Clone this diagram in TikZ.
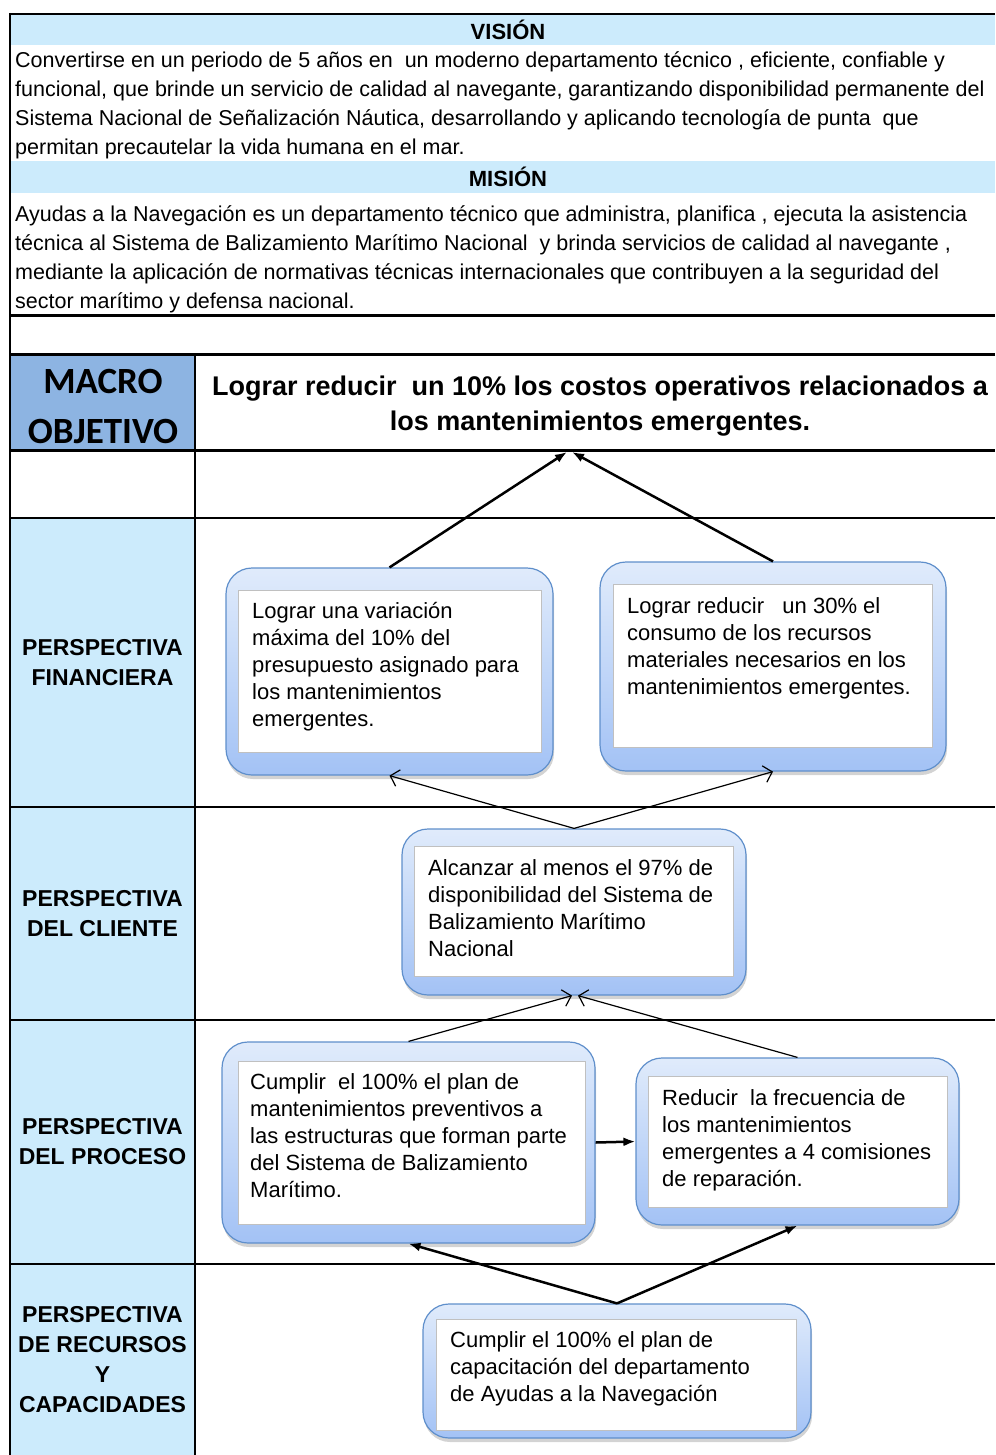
\documentclass[tikz,border=0pt]{standalone}
\usepackage{fontspec}
\setmainfont{Liberation Sans}
\newfontfamily\calib{Carlito}
\usetikzlibrary{arrows.meta,shadows,calc}
\definecolor{band}{HTML}{CCEBFC}
\definecolor{macrob}{HTML}{8DB4E2}
\definecolor{boxtop}{HTML}{E0EBFB}
\definecolor{boxbot}{HTML}{A3C2F5}
\definecolor{boxline}{HTML}{5F8FCB}
\definecolor{innerline}{HTML}{C0C0C0}
\newcommand{\fstrut}{\rule{0pt}{24pt}}
\begin{document}
\begin{tikzpicture}[x=1pt,y=-1pt,
  cellfill/.style={fill=band, inner sep=0pt, draw=none},
  persp/.style={cellfill, align=center, font=\fontsize{23}{30}\selectfont\bfseries},
  obox/.style={draw=boxline, line width=1.2pt, rounded corners=26pt, top color=boxtop, bottom color=boxbot,
     drop shadow={opacity=0.35, shadow xshift=1pt, shadow yshift=-4pt}, inner sep=0pt},
  ibox/.style={draw=innerline, line width=1pt, fill=white, inner sep=0pt},
  txt/.style={anchor=north west, align=left, inner sep=0pt, font=\fontsize{22}{27}\selectfont},
  para/.style={anchor=north west, align=left, inner sep=0pt, font=\fontsize{21.5}{29}\selectfont},
  bigarrow/.style={line width=2.5pt, -{Latex[length=12pt,width=9pt]}},
  smallarrow/.style={line width=1.2pt, -{Straight Barb[length=8pt,width=17pt]}},
  rule/.style={line width=#1, black}
]
\useasboundingbox (0,0) rectangle (995,1455);

% bands and cells
\node[cellfill, anchor=north west, minimum width=985pt, minimum height=31pt] (vband) at (10,14) {};
\node[cellfill, anchor=north west, minimum width=985pt, minimum height=32pt] (mband) at (10,161) {};
\node[font=\fontsize{22}{24}\selectfont\bfseries, inner sep=0pt] (vlabel) at (508,30) {VISIÓN};
\node[font=\fontsize{22}{24}\selectfont\bfseries, inner sep=0pt] (mlabel) at (508,177) {MISIÓN};

\node[para] (vtext) at (15,43) {\fstrut Convertirse en un periodo de 5 años en\ \ un moderno departamento técnico , eficiente, confiable y\\
funcional, que brinde un servicio de calidad al navegante, garantizando disponibilidad permanente del\\
Sistema Nacional de Señalización Náutica, desarrollando y aplicando tecnología de punta\ \ que\\
permitan precautelar la vida humana en el mar.};

\node[para] (mtext) at (15,197) {\fstrut Ayudas a la Navegación es un departamento técnico que administra, planifica , ejecuta la asistencia\\
técnica al Sistema de Balizamiento Marítimo Nacional\ \ y brinda servicios de calidad al navegante ,\\
mediante la aplicación de normativas técnicas internacionales que contribuyen a la seguridad del\\
sector marítimo y defensa nacional.};

% macro row
\node[fill=macrob, inner sep=0pt, minimum width=185pt, minimum height=96pt] (macro) at (102.5,402) {};
\node[align=center, inner sep=0pt, font=\fontsize{37}{50}\selectfont\calib\bfseries] (mlab) at (103,406) {MACRO\\OBJETIVO};
\node[align=center, inner sep=0pt, font=\fontsize{27}{35}\selectfont\bfseries] (mobj) at (600,406)
  {Lograr reducir\ \ un 10\% los costos operativos relacionados a\\los mantenimientos emergentes.};

% perspective cells
\node[persp, minimum width=185pt, minimum height=289pt] (pf) at (102.5,662.5) {PERSPECTIVA\\FINANCIERA};
\node[persp, minimum width=185pt, minimum height=213pt] (pc) at (102.5,914) {PERSPECTIVA\\DEL CLIENTE};
\node[persp, minimum width=185pt, minimum height=244pt] (pp) at (102.5,1142) {PERSPECTIVA\\DEL PROCESO};
\node[persp, minimum width=185pt, minimum height=191pt] (pr) at (102.5,1359.5) {PERSPECTIVA\\DE RECURSOS\\Y\\CAPACIDADES};

% table rules
\draw[rule=2pt] (10,14) -- (995,14);
\draw[rule=2pt] (10,13) -- (10,1455);
\draw[rule=3pt] (10,315) -- (995,315);
\draw[rule=3pt] (10,354) -- (995,354);
\draw[rule=3pt] (10,450) -- (995,450);
\draw[rule=2pt] (10,518) -- (995,518);
\draw[rule=2pt] (10,807) -- (995,807);
\draw[rule=2pt] (10,1020) -- (995,1020);
\draw[rule=2pt] (10,1264) -- (995,1264);
\draw[rule=2pt] (195,354) -- (195,1455);

% objective boxes
\node[obox, minimum width=327pt, minimum height=207pt] (o1) at (389.5,671.5) {};
\node[ibox, minimum width=303pt, minimum height=162pt] (i1) at (389.5,671) {};
\node[txt] (t1) at (252,594) {\fstrut Lograr una variación\\máxima del 10\% del\\presupuesto\ asignado para\\los mantenimientos\\emergentes.};

\node[obox, minimum width=346pt, minimum height=209pt] (o2) at (773,666.5) {};
\node[ibox, minimum width=319pt, minimum height=163pt] (i2) at (772.5,665.5) {};
\node[txt] (t2) at (627,589) {\fstrut Lograr reducir\ \ \ un 30\% el\\consumo\ de los recursos\\materiales necesarios en los\\mantenimientos\ emergentes.};

\node[obox, minimum width=344pt, minimum height=166pt] (o3) at (574,912) {};
\node[ibox, minimum width=319pt, minimum height=130pt] (i3) at (573.5,911) {};
\node[txt] (t3) at (428,851) {\fstrut Alcanzar\ al menos el 97\% de\\disponibilidad del Sistema de\\Balizamiento\ Marítimo\\Nacional};

\node[obox, minimum width=373pt, minimum height=201pt] (o4) at (408.5,1142.5) {};
\node[ibox, minimum width=347pt, minimum height=163pt] (i4) at (411.5,1142.5) {};
\node[txt] (t4) at (250,1065) {\fstrut Cumplir\ \ el 100\% el plan de\\mantenimientos\ preventivos\ a\\las estructuras\ que\ forman parte\\del Sistema de Balizamiento\\Marítimo.};

\node[obox, minimum width=323pt, minimum height=167pt] (o5) at (797.5,1141.5) {};
\node[ibox, minimum width=299pt, minimum height=131pt] (i5) at (797.5,1141.5) {};
\node[txt] (t5) at (662,1081) {\fstrut Reducir\ \ la frecuencia de\\los mantenimientos\\emergentes a 4 comisiones\\de reparación.};

\node[obox, minimum width=388pt, minimum height=134pt] (o6) at (617,1371) {};
\node[ibox, minimum width=360pt, minimum height=111pt] (i6) at (616,1374.5) {};
\node[txt] (t6) at (450,1323) {\fstrut Cumplir el 100\% el plan de\\capacitación del departamento\\de Ayudas\ a la Navegación};

% connectors
\coordinate (mt1) at (567,452);
\coordinate (mt2) at (572,452);
\draw[bigarrow] (o1.north) -- (mt1);
\draw[bigarrow] (o2.north) -- (mt2);
\draw[smallarrow] (o3.north) -- (o1.south);
\draw[smallarrow] (o3.north) -- (o2.south);
\draw[smallarrow] (o4.north) -- ($(o3.south)+(-2,0)$);
\draw[smallarrow] (o5.north) -- ($(o3.south)+(4,0)$);
\draw[bigarrow] (o4.east) -- (o5.west);
\draw[bigarrow] (o6.north) -- (o4.south);
\draw[bigarrow] (o6.north) -- (o5.south);
\end{tikzpicture}
\end{document}
